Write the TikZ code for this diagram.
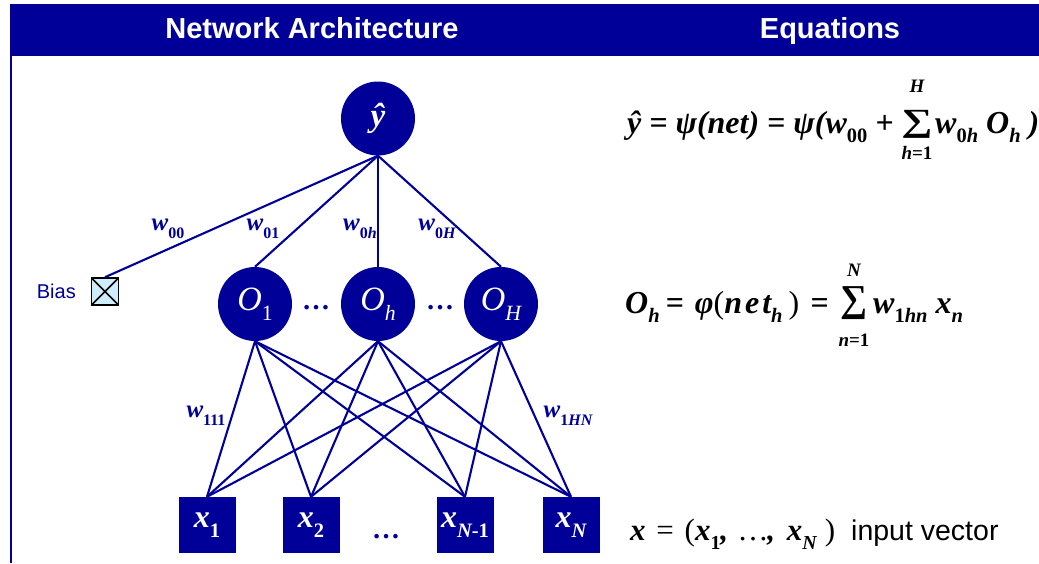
\documentclass[tikz,border=0pt]{standalone}
\usepackage{fontspec}
\usepackage{graphicx}
\setmainfont{Liberation Serif}
\newfontfamily\arial{Liberation Sans}
\definecolor{navy}{RGB}{0,0,153}
\definecolor{biasfill}{RGB}{205,236,252}
\newcommand\fs[1]{\fontsize{#1}{#1}\selectfont}
\newcommand\bi{\bfseries\itshape}
\newcommand\sbx[1]{\raisebox{-0.3em}{\scalebox{0.64}{#1}}}
\newcommand\gap[1]{\hspace*{#1pt}}
\begin{document}
\begin{tikzpicture}[x=1pt,y=-1pt,
  neuron/.style={circle,fill=navy,minimum size=74pt,inner sep=0pt,text=white},
  inbox/.style={rectangle,fill=navy,minimum width=57pt,minimum height=56pt,inner sep=0pt,text=white,font=\fs{32}\bi},
  link/.style={navy,line width=2.1pt},
  wlab/.style={text=navy,font=\fs{25}\bi,inner sep=0pt},
  eq/.style={anchor=base west,inner sep=0pt,font=\fs{32}\bi},
  lim/.style={inner sep=0pt,font=\fs{19}\bi},
  sumsign/.style={inner sep=0pt,font=\fs{38}\bfseries},
  dots/.style={text=navy,font=\fs{28}\bfseries,inner sep=0pt},
  head/.style={text=white,font=\fs{29}\arial\bfseries,anchor=base,inner sep=0pt}]
\useasboundingbox (0,0) rectangle (1039,563);
% header bar and frame line
\fill[navy] (10,3.5) rectangle (1039,55.5);
\draw[navy,line width=2.5pt] (11.2,55) -- (11.2,563);
\node[head] (h1) at (312,38) {Network Architecture};
\node[head] (h2) at (830,38) {Equations};
% neurons
\node[neuron,font=\fs{33}\bi] (y) at (378,118.5) {\raisebox{-5pt}{ŷ}};
\node[neuron,font=\fs{34}\itshape] (o1) at (255,304) {\raisebox{-3pt}{O\sbx{\upshape 1}}};
\node[neuron,font=\fs{34}\itshape] (oh) at (378,304) {\raisebox{-3pt}{O\sbx{h}}};
\node[neuron,font=\fs{34}\itshape] (oH) at (501,304) {\raisebox{-3pt}{O\sbx{H}}};
\node[dots] (d1) at (316,308) {…};
\node[dots] (d2) at (440,308) {…};
% bias
\node[draw=black,line width=1.6pt,fill=biasfill,minimum size=27pt,inner sep=0pt,
  path picture={\draw[line width=1.6pt] (path picture bounding box.north west) -- (path picture bounding box.south east)
  (path picture bounding box.north east) -- (path picture bounding box.south west);}] (bias) at (105,291.5) {};
\node[text=navy,font=\fs{20}\arial,anchor=base east,inner sep=0pt] (biaslab) at (76,298) {Bias};
% inputs
\node[inbox] (x1) at (207,525) {\raisebox{-4pt}{x\sbx{\upshape 1}}};
\node[inbox] (x2) at (311,525) {\raisebox{-4pt}{x\sbx{\upshape 2}}};
\node[inbox] (xn1) at (465,525) {\raisebox{-4pt}{x\sbx{N\upshape -1}}};
\node[inbox] (xn) at (571,525) {\raisebox{-4pt}{x\sbx{N}}};
\node[dots] (d3) at (386,537) {…};
% links
\foreach \t in {bias,o1,oh,oH} \draw[link] (y.south) -- (\t.north);
\foreach \o in {o1,oh,oH} \foreach \i in {x1,x2,xn1,xn} \draw[link] (\o.south) -- (\i.north);
% weight labels
\node[wlab] (lw00) at (168,229) {w\sbx{\upshape 00}};
\node[wlab] (lw01) at (263,229) {w\sbx{\upshape 01}};
\node[wlab] (lw0h) at (360,229) {w\sbx{\upshape 0\itshape h}};
\node[wlab] (lw0H) at (437,229) {w\sbx{\upshape 0\itshape H}};
\node[wlab] (lw111) at (206,416) {w\sbx{\upshape 111}};
\node[wlab] (lw1HN) at (568,416) {w\sbx{\upshape 1\itshape HN}};
% equation 1
\node[eq] (e1a) at (627,133) {ŷ = ψ(net) = ψ(w\sbx{\upshape 00} +};
\node[sumsign] (e1s) at (917,124) {\scalebox{1.15}[0.85]{∑}};
\node[lim] (e1u) at (917,86) {H};
\node[lim] (e1l) at (917,153) {h\upshape =1};
\node[eq] (e1b) at (935,133) {w\sbx{\upshape 0\itshape h}\gap{8}O\sbx{h}\gap{8})};
% equation 2
\node[eq] (e2a) at (625,313) {O\sbx{h}\gap{6}=\gap{3} φ{\mdseries\upshape(}n\gap{3}e\gap{3}t\sbx{h}\gap{6}{\mdseries\upshape)}\gap{3} =};
\node[sumsign] (e2s) at (854,303) {∑};
\node[lim] (e2u) at (854,270) {N};
\node[lim] (e2l) at (854,340) {n\upshape =1};
\node[eq] (e2b) at (873,313) {w\sbx{\upshape 1\itshape hn}\gap{8}x\sbx{n}};
% equation 3
\node[eq,font=\fs{31}\bi] (e3a) at (630,540) {x\gap{3} {\mdseries\upshape =\gap{3} (}x\sbx{\upshape 1},\gap{4} {\mdseries …},\gap{4} x\sbx{N}\gap{8}{\mdseries\upshape )}};
\node[anchor=base west,inner sep=0pt,font=\fs{28.5}\arial] (e3b) at (851,540) {input vector};
\end{tikzpicture}
\end{document}
